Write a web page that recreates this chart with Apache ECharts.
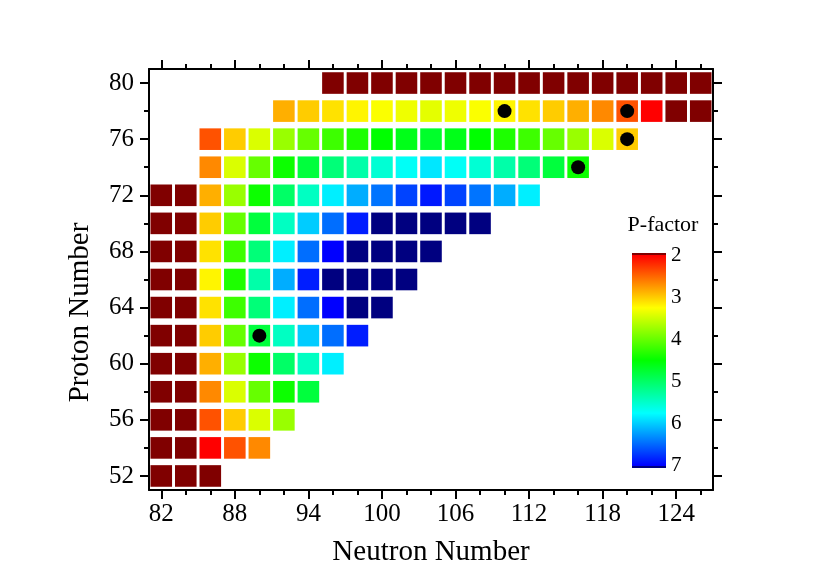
<!DOCTYPE html>
<html><head><meta charset="utf-8">
<script src="https://cdn.jsdelivr.net/npm/echarts@6/dist/echarts.min.js"></script>
<style>html,body{margin:0;padding:0;background:#fff}#chart{width:830px;height:588px}</style>
</head><body><div id="chart"></div>
<script>
// ---- data ----
const protonNumbers = [80, 78, 76, 74, 72, 70, 68, 66, 64, 62, 60, 58, 56, 54, 52];
const firstNeutron  = [96, 92, 86, 86, 82, 82, 82, 82, 82, 82, 82, 82, 82, 82, 82];
const pZ80 = [1.75,1.78,1.80,1.82,1.83,1.82,1.80,1.78,1.75,1.71,1.67,1.60,1.50,1.33,1.00,0.00];
const pZ78 = [2.86,3.00,3.11,3.20,3.27,3.33,3.38,3.33,3.27,3.20,3.11,3.00,2.86,2.67,2.40,2.00,1.33,0.00];
const pZ76 = [2.40,3.00,3.43,3.75,4.00,4.20,4.36,4.50,4.62,4.71,4.62,4.50,4.36,4.20,4.00,3.75,3.43,3.00];
const pZ74 = [2.67,3.43,4.00,4.44,4.80,5.09,5.33,5.54,5.71,5.87,5.71,5.54,5.33,5.09,4.80,4.44];
const pZ72 = [0.00,1.67,2.86,3.75,4.44,5.00,5.45,5.83,6.15,6.43,6.67,6.88,6.67,6.43,6.15,5.83];
const pZ70 = [0.00,1.71,3.00,4.00,4.80,5.45,6.00,6.46,6.86,7.20,7.50,7.76,7.50,7.20];
const pZ68 = [0.00,1.75,3.11,4.20,5.09,5.83,6.46,7.00,7.47,7.88,8.24,8.56];
const pZ66 = [0.00,1.78,3.20,4.36,5.33,6.15,6.86,7.47,8.00,8.47,8.89];
const pZ64 = [0.00,1.75,3.11,4.20,5.09,5.83,6.46,7.00,7.47,7.88];
const pZ62 = [0.00,1.71,3.00,4.00,4.80,5.45,6.00,6.46,6.86];
const pZ60 = [0.00,1.67,2.86,3.75,4.44,5.00,5.45,5.83];
const pZ58 = [0.00,1.60,2.67,3.43,4.00,4.44,4.80];
const pZ56 = [0.00,1.50,2.40,3.00,3.43,3.75];
const pZ54 = [0.00,1.33,2.00,2.40,2.67];
const pZ52 = [0.00,1.00,1.33];
const pFactorRows = [pZ80,pZ78,pZ76,pZ74,pZ72,pZ70,pZ68,pZ66,pZ64,pZ62,pZ60,pZ58,pZ56,pZ54,pZ52];

const dotNeutron = [110, 120, 120, 116, 90];
const dotProton  = [78, 78, 76, 74, 62];

const xMajorTicks = [82, 88, 94, 100, 106, 112, 118, 124];
const xMinorTicks = [82,84,86,88,90,92,94,96,98,100,102,104,106,108,110,112,114,116,118,120,122,124,126];
const yMajorTicks = [52, 56, 60, 64, 68, 72, 76, 80];
const yMinorTicks = [52,54,56,58,60,62,64,66,68,70,72,74,76,78,80];
const colorbarTicks = [2, 3, 4, 5, 6, 7];
const pRange = [2, 7];

// ---- style ----
const rampColors = ['#ff0000', '#ffff00', '#00ff00', '#00ffff', '#0000ff'];
const belowColor = '#800000', aboveColor = '#000080';
const FONT = 'Liberation Serif';
const cellFillX = 0.88, cellFillY = 0.77;
const xExtent = [81, 127], yExtent = [51, 81];
const cbExtent = [1.95, 7.05];

const cells = [];
protonNumbers.forEach((z, i) => {
  pFactorRows[i].forEach((v, j) => cells.push([firstNeutron[i] + 2 * j, z, v]));
});
const dots = dotNeutron.map((n, i) => [n, dotProton[i]]);

const chart = echarts.init(document.getElementById('chart'), null, {renderer: 'canvas'});
const black = '#000';
const lineS = {show: true, onZero: false, lineStyle: {color: black, width: 2}};
function xAx(opts) {
  return Object.assign({type: 'value', min: xExtent[0], max: xExtent[1], splitLine: {show: false}}, opts);
}
function yAx(opts) {
  return Object.assign({type: 'value', min: yExtent[0], max: yExtent[1], splitLine: {show: false}}, opts);
}
const majorTick = (vals) => ({show: true, inside: false, length: 9, customValues: vals, lineStyle: {color: black, width: 2}});
const minorTick = (vals) => ({show: true, inside: false, length: 5, customValues: vals, lineStyle: {color: black, width: 2}});
const noLabel = {show: false};
const noLine = {show: false};

const gridRect = {left: 149, top: 69, width: 564, height: 421};

// colorbar gradient stops
const cbSpan = cbExtent[1] - cbExtent[0];
const off = v => (v - cbExtent[0]) / cbSpan;
const cbStops = [{offset: 0, color: belowColor}, {offset: off(pRange[0]) - 0.0001, color: belowColor}];
rampColors.forEach((c, k) => {
  const v = pRange[0] + k * (pRange[1] - pRange[0]) / (rampColors.length - 1);
  cbStops.push({offset: off(v), color: c});
});
cbStops.push({offset: off(pRange[1]) + 0.0001, color: aboveColor}, {offset: 1, color: aboveColor});

const option = {
  backgroundColor: '#fff',
  animation: false,
  textStyle: {fontFamily: FONT, color: black},
  grid: [
    Object.assign({}, gridRect),
    Object.assign({}, gridRect),
    {left: 632, top: 253, width: 34, height: 215}
  ],
  xAxis: [
    xAx({gridIndex: 0, position: 'bottom', axisLine: lineS, axisTick: majorTick(xMajorTicks),
      axisLabel: {customValues: xMajorTicks, fontSize: 25, color: black, fontFamily: FONT, margin: 12},
      name: 'Neutron Number', nameLocation: 'middle', nameGap: 48,
      nameTextStyle: {fontSize: 29, color: black, fontFamily: FONT}}),
    xAx({gridIndex: 0, position: 'top', axisLine: lineS, axisTick: majorTick(xMajorTicks), axisLabel: noLabel}),
    xAx({gridIndex: 1, position: 'bottom', axisLine: noLine, axisTick: minorTick(xMinorTicks), axisLabel: noLabel}),
    xAx({gridIndex: 1, position: 'top', axisLine: noLine, axisTick: minorTick(xMinorTicks), axisLabel: noLabel}),
    {gridIndex: 2, type: 'value', min: -1, max: 1, show: false}
  ],
  yAxis: [
    yAx({gridIndex: 0, position: 'left', axisLine: lineS, axisTick: majorTick(yMajorTicks),
      axisLabel: {customValues: yMajorTicks, fontSize: 25, color: black, fontFamily: FONT, margin: 15},
      name: 'Proton Number', nameLocation: 'middle', nameGap: 54,
      nameTextStyle: {fontSize: 29, color: black, fontFamily: FONT, padding: [0, 66, 0, 0]}}),
    yAx({gridIndex: 0, position: 'right', axisLine: lineS, axisTick: majorTick(yMajorTicks), axisLabel: noLabel}),
    yAx({gridIndex: 1, position: 'left', axisLine: noLine, axisTick: minorTick(yMinorTicks), axisLabel: noLabel}),
    yAx({gridIndex: 1, position: 'right', axisLine: noLine, axisTick: minorTick(yMinorTicks), axisLabel: noLabel}),
    {gridIndex: 2, type: 'value', min: cbExtent[0], max: cbExtent[1], inverse: true, position: 'right',
      splitLine: {show: false}, axisLine: {show: false}, axisTick: {show: false},
      axisLabel: {customValues: colorbarTicks, fontSize: 21, color: black, fontFamily: FONT, margin: 5}}
  ],
  visualMap: {
    type: 'continuous', show: false, seriesIndex: 0, dimension: 2,
    min: pRange[0], max: pRange[1], inRange: {color: rampColors}
  },
  graphic: [{
    type: 'text', x: 663, y: 225,
    style: {text: 'P-factor', font: '22px "Liberation Serif"', fill: black, textAlign: 'center', textVerticalAlign: 'middle'}
  }],
  series: [
    {
      type: 'custom', xAxisIndex: 0, yAxisIndex: 0, data: cells, z: 2,
      renderItem(params, api) {
        const v = api.value(2);
        const c = api.coord([api.value(0), api.value(1)]);
        const s = api.size([2, 2]);
        const w = s[0] * cellFillX, h = s[1] * cellFillY;
        const fill = v < pRange[0] ? belowColor : (v > pRange[1] ? aboveColor : api.visual('color'));
        return {type: 'rect', shape: {x: c[0] - w / 2, y: c[1] - h / 2, width: w, height: h}, style: {fill: fill}};
      }
    },
    {
      type: 'scatter', xAxisIndex: 0, yAxisIndex: 0, data: dots, z: 5,
      symbol: 'circle', symbolSize: 14, itemStyle: {color: black, opacity: 1}
    },
    {
      type: 'custom', xAxisIndex: 4, yAxisIndex: 4, data: [[0, cbExtent[0], cbExtent[1]]],
      renderItem(params, api) {
        const a = api.coord([0, api.value(1)]);
        const b = api.coord([0, api.value(2)]);
        const cs = params.coordSys;
        return {type: 'rect', shape: {x: cs.x, y: a[1], width: cs.width, height: b[1] - a[1]},
          style: {fill: new echarts.graphic.LinearGradient(0, 0, 0, 1, cbStops)}};
      }
    }
  ]
};
chart.setOption(option);
</script></body></html>
